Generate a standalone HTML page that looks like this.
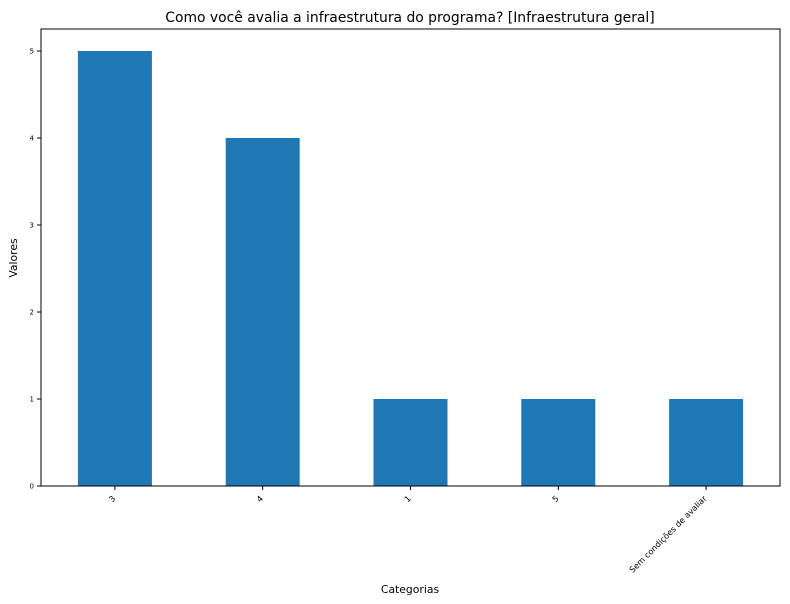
<!DOCTYPE html>
<html><head><meta charset="utf-8"><style>
body{margin:0;background:#fff;}
svg{display:block;font-family:"DejaVu Sans","Liberation Sans",sans-serif;}
</style></head><body>
<svg id="chart" width="790" height="604">
<rect x="0" y="0" width="790" height="604" fill="#fff"/>
<text x="410" y="22" font-size="13.9" text-anchor="middle">Como você avalia a infraestrutura do programa? [Infraestrutura geral]</text>
<g id="bars"></g>
<g id="yticks"></g>
<g id="xticks"></g>
<rect x="41" y="29" width="739" height="457" fill="none" stroke="#000" stroke-width="1"/>
<text x="410" y="593" font-size="10.8" text-anchor="middle">Categorias</text>
<text x="17" y="258" font-size="10.8" text-anchor="middle" transform="rotate(-90 17 258)">Valores</text>
</svg>
<script>
const categories = ["3","4","1","5","Sem condições de avaliar"];
const values = [5,4,1,1,1];
const yTicks = [0,1,2,3,4,5];
const NS="http://www.w3.org/2000/svg";
const L=41,R=780,B=486,unit=87;
const step=(R-L)/categories.length;
function xc(i){return L+step*(i+0.5);}
function y(v){return B-v*unit;}
const bars=document.getElementById('bars'),yt=document.getElementById('yticks'),xt=document.getElementById('xticks');
categories.forEach((c,i)=>{
  const r=document.createElementNS(NS,'rect');
  r.setAttribute('x',xc(i)-37);r.setAttribute('width',74);
  r.setAttribute('y',y(values[i]));r.setAttribute('height',B-y(values[i]));
  r.setAttribute('fill','#1f77b4');
  
  
  bars.appendChild(r);
  const t=document.createElementNS(NS,'line');
  t.setAttribute('x1',xc(i));t.setAttribute('x2',xc(i));t.setAttribute('y1',B);t.setAttribute('y2',B+4);t.setAttribute('stroke','#000');
  
  
  xt.appendChild(t);
  const tx=document.createElementNS(NS,'text');
  const ax=xc(i)+1, ay=B+13;
  tx.setAttribute('x',ax);tx.setAttribute('y',ay);tx.setAttribute('font-size','8.2');tx.setAttribute('text-anchor','end');
  tx.setAttribute('transform','rotate(-45 '+ax+' '+ay+')');
  tx.textContent=c;
  
  
  xt.appendChild(tx);
});
yTicks.forEach(v=>{
  const t=document.createElementNS(NS,'line');
  t.setAttribute('x1',L-4);t.setAttribute('x2',L);t.setAttribute('y1',y(v));t.setAttribute('y2',y(v));t.setAttribute('stroke','#000');
  
  
  yt.appendChild(t);
  const tx=document.createElementNS(NS,'text');
  tx.setAttribute('x',L-7);tx.setAttribute('y',y(v)+2.5);tx.setAttribute('font-size','7');tx.setAttribute('text-anchor','end');
  tx.textContent=v;
  
  
  yt.appendChild(tx);
});
</script>
</body></html>
